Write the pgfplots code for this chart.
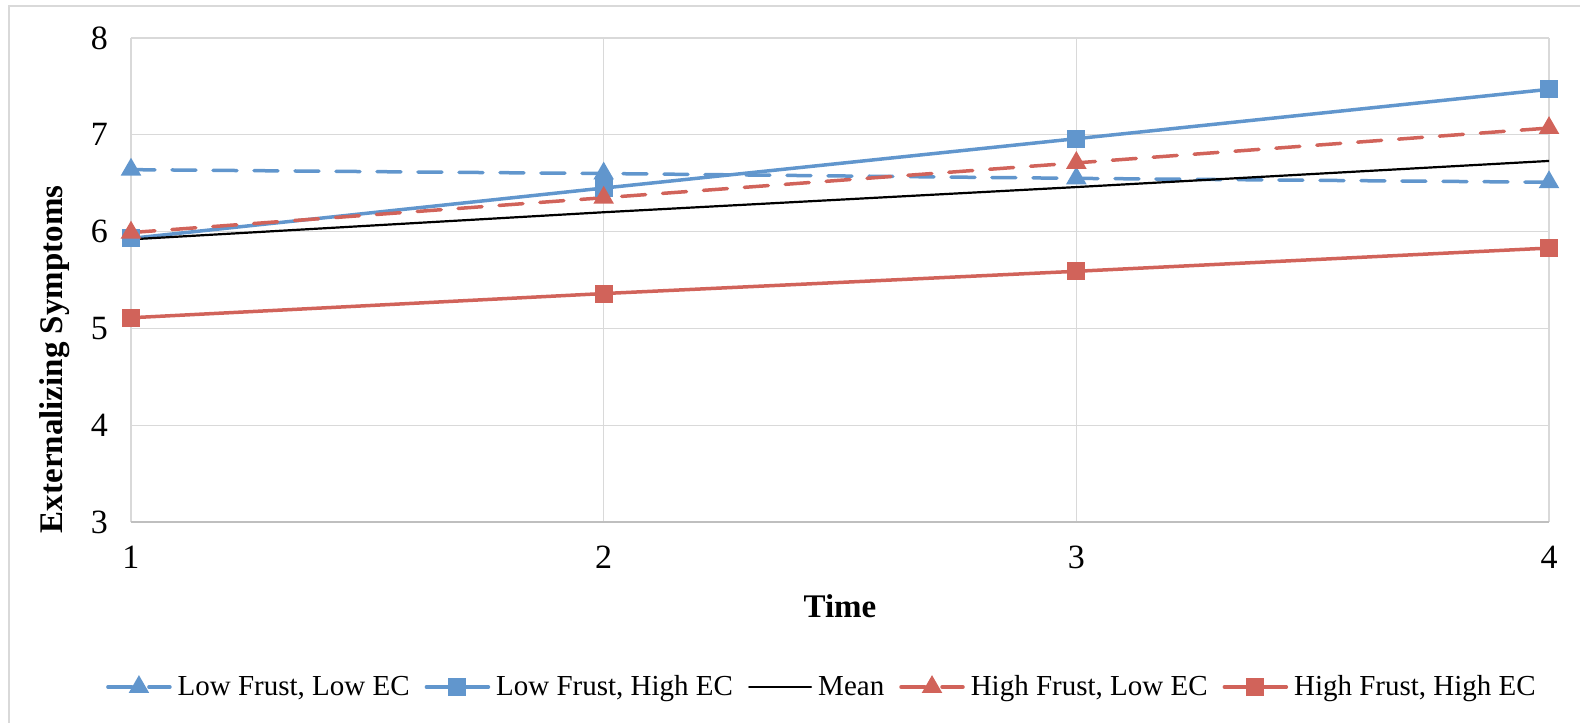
\documentclass[border=0pt]{standalone}
\usepackage{fontspec}
\setmainfont{Liberation Serif}
\usepackage{pgfplots}
\pgfplotsset{compat=1.18}

\definecolor{exblue}{RGB}{97,150,205}
\definecolor{exred}{RGB}{209,99,90}
\definecolor{gridgray}{RGB}{217,217,217}
\definecolor{axisgray}{RGB}{191,191,191}

\begin{document}
\begin{tikzpicture}
% page area and chart frame
\path[use as bounding box] (-65.5pt,-100.5pt) rectangle (724.5pt,261pt);
\draw[gridgray, line width=1pt] (-61pt,-101pt) -- (-61pt,258pt) -- (725pt,258pt);
\begin{axis}[
  at={(0,0)}, anchor=south west,
  scale only axis, width=709pt, height=242pt,
  xmin=1, xmax=4, ymin=3, ymax=8,
  xtick={1,2,3,4}, ytick={3,4,5,6,7,8},
  grid=major, grid style={gridgray, line width=0.6pt},
  axis line style={draw=none},
  major tick length=0pt,
  /pgf/number format/assume math mode=true,
  tick label style={font=\fontsize{17}{20}\selectfont},
  xticklabel style={yshift=-8.5pt},
  yticklabel style={xshift=-8pt},
  xlabel={\textbf{Time}},
  ylabel={\textbf{Externalizing Symptoms}},
  label style={font=\fontsize{16.5}{19}\selectfont},
  xlabel style={at={(axis description cs:0.5,-0.175)}, anchor=center},
  ylabel style={at={(axis description cs:-0.054,0.336)}, anchor=center},
  after end axis/.code={
    \draw[axisgray, line width=1pt] (rel axis cs:0,0) -- (rel axis cs:1,0);
  },
  legend columns=5,
  legend cell align=left,
  legend style={draw=none, fill=none, at={(0.488,-0.341)}, anchor=center,
    font=\fontsize{14.5}{17}\selectfont,
    /tikz/every even column/.append style={column sep=5.5pt},
    /tikz/every odd column/.append style={column sep=1pt}},
  legend image code/.code={
    \draw[mark repeat=2, mark phase=2, #1]
      plot coordinates {(0pt,0pt) (15.5pt,0pt) (31pt,0pt)};
  },
  every axis plot/.append style={line width=1.75pt, line cap=round},
]
% Low frustration, low effortful control
\addplot[exblue, dash pattern=on 12pt off 8.5pt, mark=triangle*, mark size=4.2pt,
  mark options={solid, fill=exblue}]
  coordinates {(1,6.64) (2,6.60) (3,6.55) (4,6.51)};
\addlegendentry{Low Frust, Low EC}
% Low frustration, high effortful control
\addplot[exblue, mark=square*, mark size=3.6pt, mark options={solid, fill=exblue}]
  coordinates {(1,5.93) (2,6.45) (3,6.96) (4,7.47)};
\addlegendentry{Low Frust, High EC}
% Sample mean trajectory
\addplot[black, line width=1.1pt, no marks]
  coordinates {(1,5.92) (2,6.20) (3,6.46) (4,6.73)};
\addlegendentry{Mean}
% High frustration, low effortful control
\addplot[exred, dash pattern=on 12pt off 8.5pt, mark=triangle*, mark size=4.2pt,
  mark options={solid, fill=exred}]
  coordinates {(1,5.99) (2,6.35) (3,6.71) (4,7.07)};
\addlegendentry{High Frust, Low EC}
% High frustration, high effortful control
\addplot[exred, mark=square*, mark size=3.6pt, mark options={solid, fill=exred}]
  coordinates {(1,5.11) (2,5.36) (3,5.59) (4,5.83)};
\addlegendentry{High Frust, High EC}
\end{axis}
\end{tikzpicture}
\end{document}
